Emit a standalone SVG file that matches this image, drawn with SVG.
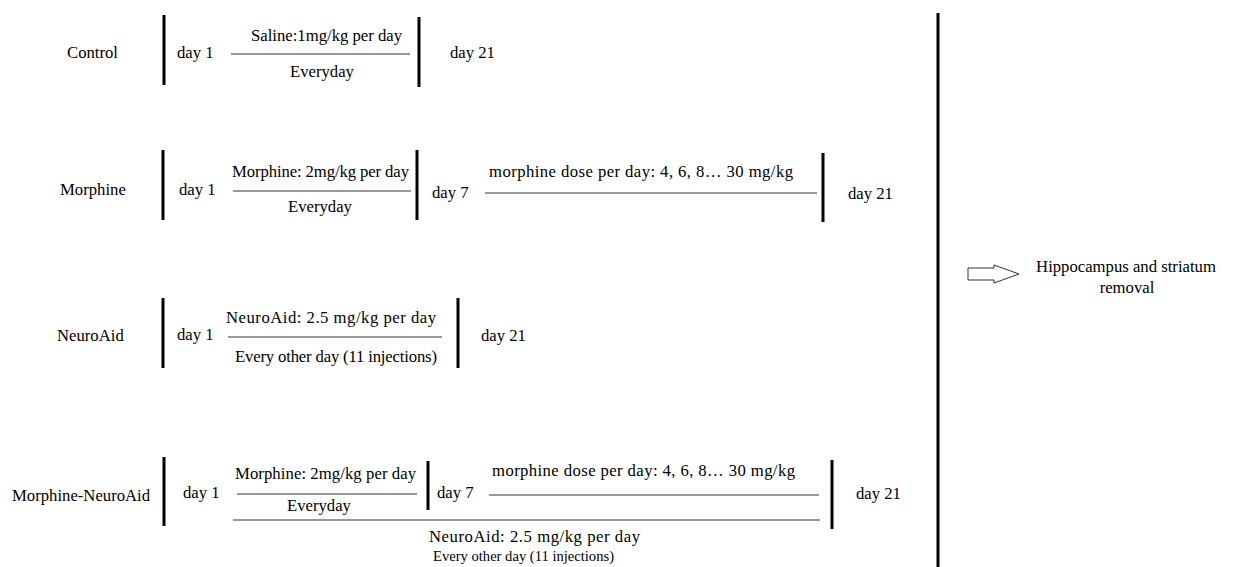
<svg xmlns="http://www.w3.org/2000/svg" width="1233" height="567" viewBox="0 0 1233 567">
<style>
text{font-family:"Liberation Serif","Times New Roman",serif;font-size:16.7px;fill:#000}
.bar{stroke:#000;stroke-width:3;fill:none}
.ln{stroke:#333;stroke-width:1.2;fill:none}
.mid{text-anchor:middle}
</style>
<rect width="1233" height="567" fill="#fff"/>
<g id="row-control">
<text x="67" y="58">Control</text>
<line class="bar" x1="164" y1="15" x2="164" y2="85"/>
<text x="177" y="58">day 1</text>
<text x="251" y="41">Saline:1mg/kg per day</text>
<line class="ln" x1="231" y1="54" x2="410" y2="54"/>
<text x="290" y="77">Everyday</text>
<line class="bar" x1="419" y1="17" x2="419" y2="87"/>
<text x="450" y="58">day 21</text>
</g>
<g id="row-morphine">
<text x="60" y="195">Morphine</text>
<line class="bar" x1="163" y1="150" x2="163" y2="220"/>
<text x="179" y="195">day 1</text>
<text x="232" y="177" textLength="177" lengthAdjust="spacing">Morphine: 2mg/kg per day</text>
<line class="ln" x1="233" y1="191" x2="411" y2="191"/>
<text x="288" y="212">Everyday</text>
<line class="bar" x1="417" y1="150" x2="417" y2="220"/>
<text x="432" y="198">day 7</text>
<text x="489" y="177" textLength="304" lengthAdjust="spacing">morphine dose per day:  4, 6, 8… 30 mg/kg</text>
<line class="ln" x1="485" y1="193" x2="817" y2="193"/>
<line class="bar" x1="823" y1="153" x2="823" y2="222"/>
<text x="848" y="199">day 21</text>
</g>
<g id="row-neuroaid">
<text x="57" y="341">NeuroAid</text>
<line class="bar" x1="163" y1="298" x2="163" y2="368"/>
<text x="177" y="340">day 1</text>
<text x="226" y="323" textLength="210" lengthAdjust="spacing">NeuroAid: 2.5 mg/kg per day</text>
<line class="ln" x1="228" y1="337" x2="442" y2="337"/>
<text x="235" y="362" textLength="202" lengthAdjust="spacing">Every other day (11 injections)</text>
<line class="bar" x1="458" y1="298" x2="458" y2="368"/>
<text x="481" y="341">day 21</text>
</g>
<g id="row-morphine-neuroaid">
<text x="12" y="501">Morphine-NeuroAid</text>
<line class="bar" x1="164" y1="457" x2="164" y2="526"/>
<text x="183" y="498">day 1</text>
<text x="235" y="479" textLength="181" lengthAdjust="spacing">Morphine: 2mg/kg per day</text>
<line class="ln" x1="237" y1="494" x2="417" y2="494"/>
<text x="287" y="511">Everyday</text>
<line class="bar" x1="428" y1="461" x2="428" y2="510"/>
<text x="437" y="498">day 7</text>
<text x="492" y="476" textLength="303" lengthAdjust="spacing">morphine dose per day:  4, 6, 8… 30 mg/kg</text>
<line class="ln" x1="489" y1="495" x2="819" y2="495"/>
<line class="ln" x1="233" y1="520" x2="820" y2="520"/>
<line class="bar" x1="832" y1="460" x2="832" y2="529"/>
<text x="856" y="499">day 21</text>
<text x="429" y="542" textLength="211" lengthAdjust="spacing">NeuroAid: 2.5 mg/kg per day</text>
<text x="433" y="561" style="font-size:15.6px" textLength="181" lengthAdjust="spacingAndGlyphs">Every other day (11 injections)</text>
</g>
<g id="endpoint">
<line class="bar" x1="938" y1="13" x2="938" y2="567"/>
</g>
<g id="connectors">
<polygon points="968,268 994,268 994,265 1019,274 994,283 994,280 968,280" fill="#fff" stroke="#333" stroke-width="1"/>
</g>
<g id="outcome">
<text class="mid" x="1126" y="272">Hippocampus and striatum</text>
<text class="mid" x="1127" y="293">removal</text>
</g>
</svg>
